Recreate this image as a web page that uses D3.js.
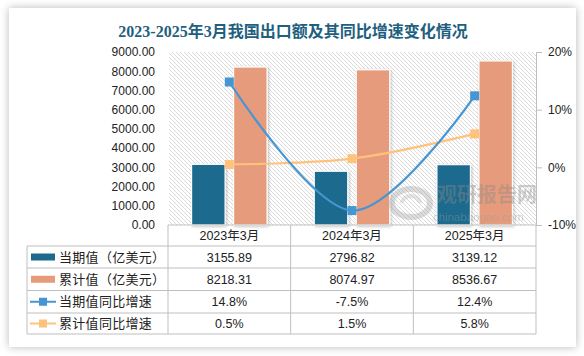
<!DOCTYPE html>
<html><head><meta charset="utf-8">
<script src="https://cdn.jsdelivr.net/npm/d3@7/dist/d3.min.js"></script>
<style>
html,body{margin:0;padding:0;background:#fff;}
svg{display:block;}
</style></head>
<body><svg id="c" width="584" height="356"></svg>
<script>
const title = "2023-2025年3月我国出口额及其同比增速变化情况";
const categories = ["2023年3月", "2024年3月", "2025年3月"];
const currentValues = [3155.89, 2796.82, 3139.12];
const cumulativeValues = [8218.31, 8074.97, 8536.67];
const currentGrowth = [14.8, -7.5, 12.4];
const cumulativeGrowth = [0.5, 1.5, 5.8];
const leftTicks = [0, 1000, 2000, 3000, 4000, 5000, 6000, 7000, 8000, 9000];
const rightTicks = [-10, 0, 10, 20];
const seriesNames = ["当期值（亿美元）", "累计值（亿美元）", "当期值同比增速", "累计值同比增速"];

const C_DARK = "#1d6a8d", C_ORANGE = "#e69b7b", C_BLUE = "#4596d2", C_LORANGE = "#ffc27c";
const FONT = "'Liberation Sans','Noto Sans CJK SC',sans-serif";

const svg = d3.select("#c");
const defs = svg.append("defs");
const sh = defs.append("filter").attr("id","card").attr("x","-10%").attr("y","-10%").attr("width","120%").attr("height","120%");
sh.append("feDropShadow").attr("dx",0).attr("dy",0).attr("stdDeviation",4).attr("flood-color","#000").attr("flood-opacity",0.28);
const bs = defs.append("filter").attr("id","bsh").attr("x","-30%").attr("y","-10%").attr("width","160%").attr("height","120%");
bs.append("feDropShadow").attr("dx",1).attr("dy",1).attr("stdDeviation",1.5).attr("flood-color","#000").attr("flood-opacity",0.25);
const pat = defs.append("pattern").attr("id","hatch").attr("patternUnits","userSpaceOnUse").attr("width",4).attr("height",4);
pat.append("rect").attr("width",4).attr("height",4).attr("fill","#fff");
pat.append("path").attr("d","M-1,-1 L5,5 M-1,3 L1,5 M3,-1 L5,1").attr("stroke","#d6d6d6").attr("stroke-width",0.9);

// card
svg.append("rect").attr("x",9).attr("y",8).attr("width",567).attr("height",339).attr("fill","#fff").attr("filter","url(#card)");

// title
svg.append("text").attr("x",293).attr("y",37).attr("text-anchor","middle")
  .attr("font-family","'Liberation Serif','Noto Sans CJK SC',serif").attr("font-weight","bold")
  .attr("font-size",16).attr("fill","#1f5f80").text(title);

const plotL = 168, plotR = 536, plotT = 52, plotB = 225;
const x = d3.scaleBand().domain(categories).range([plotL, plotR]);
const yL = d3.scaleLinear().domain([0, 9000]).range([plotB, plotT]);
const yR = d3.scaleLinear().domain([-10, 20]).range([plotB, plotT]);

svg.append("rect").attr("x",plotL+1).attr("y",plotT).attr("width",plotR-plotL-1).attr("height",plotB-plotT).attr("fill","url(#hatch)");

// left axis labels
const gl = svg.append("g").attr("transform",`translate(${plotL},0)`)
  .call(d3.axisLeft(yL).tickValues(leftTicks).tickFormat(d=>d.toFixed(2)).tickSize(0).tickPadding(13));
gl.select(".domain").remove();
gl.selectAll("text").attr("font-family",FONT).attr("font-size",12).attr("fill","#222");

// right axis
const gr = svg.append("g").attr("transform",`translate(${plotR},0)`)
  .call(d3.axisRight(yR).tickValues(rightTicks).tickFormat(d=>d+"%").tickSize(6).tickPadding(6));
gr.select(".domain").attr("stroke","#bfbfbf");
gr.selectAll(".tick line").attr("stroke","#bfbfbf");
gr.selectAll("text").attr("font-family",FONT).attr("font-size",12).attr("fill","#222");

// bars
const bw = 33.5, off = 21;
svg.append("g").selectAll("rect").data(categories).join("rect")
  .attr("x",d=>x(d)+x.bandwidth()/2-off-bw/2).attr("y",(d,i)=>yL(currentValues[i]))
  .attr("width",bw).attr("height",(d,i)=>plotB-yL(currentValues[i]))
  .attr("fill",C_DARK).attr("stroke","#fff").attr("stroke-width",1.2).attr("filter","url(#bsh)");
svg.append("g").selectAll("rect").data(categories).join("rect")
  .attr("x",d=>x(d)+x.bandwidth()/2+off-bw/2).attr("y",(d,i)=>yL(cumulativeValues[i]))
  .attr("width",bw).attr("height",(d,i)=>plotB-yL(cumulativeValues[i]))
  .attr("fill",C_ORANGE).attr("stroke","#fff").attr("stroke-width",1.2).attr("filter","url(#bsh)");

// lines
const cx = d=>x(d)+x.bandwidth()/2;
function drawLine(vals, color){
  const line = d3.line().x((d,i)=>cx(categories[i])).y(d=>yR(d)).curve(d3.curveCardinal.tension(0));
  svg.append("path").datum(vals).attr("d",line).attr("fill","none").attr("stroke",color).attr("stroke-width",2.2);
  svg.append("g").selectAll("rect").data(vals).join("rect")
    .attr("x",(d,i)=>cx(categories[i])-4.5).attr("y",d=>yR(d)-4.5).attr("width",9).attr("height",9).attr("fill",color);
}
drawLine(cumulativeGrowth, C_LORANGE);
drawLine(currentGrowth, C_BLUE);

// watermark (on top)
const wm = svg.append("g").attr("opacity",0.4);
wm.append("path").attr("d","M392,203 a19,14 0 1,1 38,0 a19,14 0 1,1 -38,0").attr("fill","none").attr("stroke","#a8a8a8").attr("stroke-width",6);
wm.append("path").attr("d","M402,203 a9,7 0 1,1 18,0").attr("fill","none").attr("stroke","#bdbdbd").attr("stroke-width",4);
wm.append("text").attr("x",437).attr("y",202).attr("font-family","'Noto Sans CJK SC',sans-serif").attr("font-weight","bold").attr("font-size",20).attr("fill","#8a8a8a").text("观研报告网");
wm.append("text").attr("x",433).attr("y",221).attr("font-family",FONT).attr("font-size",11.5).attr("fill","#9a9a9a").text("chinabaogao.com");

// table
const tL = 27, rows = [225, 246, 268, 290.5, 313, 334];
const tg = svg.append("g").attr("stroke","#bfbfbf").attr("stroke-width",1);
tg.append("line").attr("x1",plotL).attr("x2",plotR).attr("y1",rows[0]).attr("y2",rows[0]);
for (let r=1;r<rows.length;r++) tg.append("line").attr("x1",tL).attr("x2",plotR).attr("y1",rows[r]).attr("y2",rows[r]);
tg.append("line").attr("x1",tL).attr("x2",tL).attr("y1",rows[1]).attr("y2",rows[5]);
[plotL, ...categories.map(c=>x(c)+x.bandwidth())].forEach(xx=>{
  tg.append("line").attr("x1",xx).attr("x2",xx).attr("y1",rows[0]).attr("y2",rows[5]);
});
const fmtPct = d=>d.toFixed(1)+"%";
const rowData = [categories, currentValues.map(d=>d.toFixed(2)), cumulativeValues.map(d=>d.toFixed(2)), currentGrowth.map(fmtPct), cumulativeGrowth.map(fmtPct)];
rowData.forEach((vals,r)=>{
  svg.append("g").selectAll("text").data(vals).join("text")
    .attr("x",(d,i)=>cx(categories[i])).attr("y",(rows[r]+rows[r+1])/2+4.5)
    .attr("text-anchor","middle").attr("font-family",FONT).attr("font-size",12.5).attr("fill","#222").text(d=>d);
});
// legend cells
seriesNames.forEach((name,i)=>{
  const yc = (rows[i+1]+rows[i+2])/2;
  if (i<2) {
    svg.append("rect").attr("x",31).attr("y",yc-3.5).attr("width",24).attr("height",7).attr("fill",i==0?C_DARK:C_ORANGE);
  } else {
    const col = i==2?C_BLUE:C_LORANGE;
    svg.append("line").attr("x1",30).attr("x2",56).attr("y1",yc).attr("y2",yc).attr("stroke",col).attr("stroke-width",2);
    svg.append("rect").attr("x",39).attr("y",yc-4).attr("width",8).attr("height",8).attr("fill",col);
  }
  svg.append("text").attr("x",59).attr("y",yc+4.5).attr("font-family","'Noto Sans CJK SC',sans-serif").attr("font-size",13).attr("letter-spacing",0.3).attr("fill","#222").text(name);
});
</script></body></html>
